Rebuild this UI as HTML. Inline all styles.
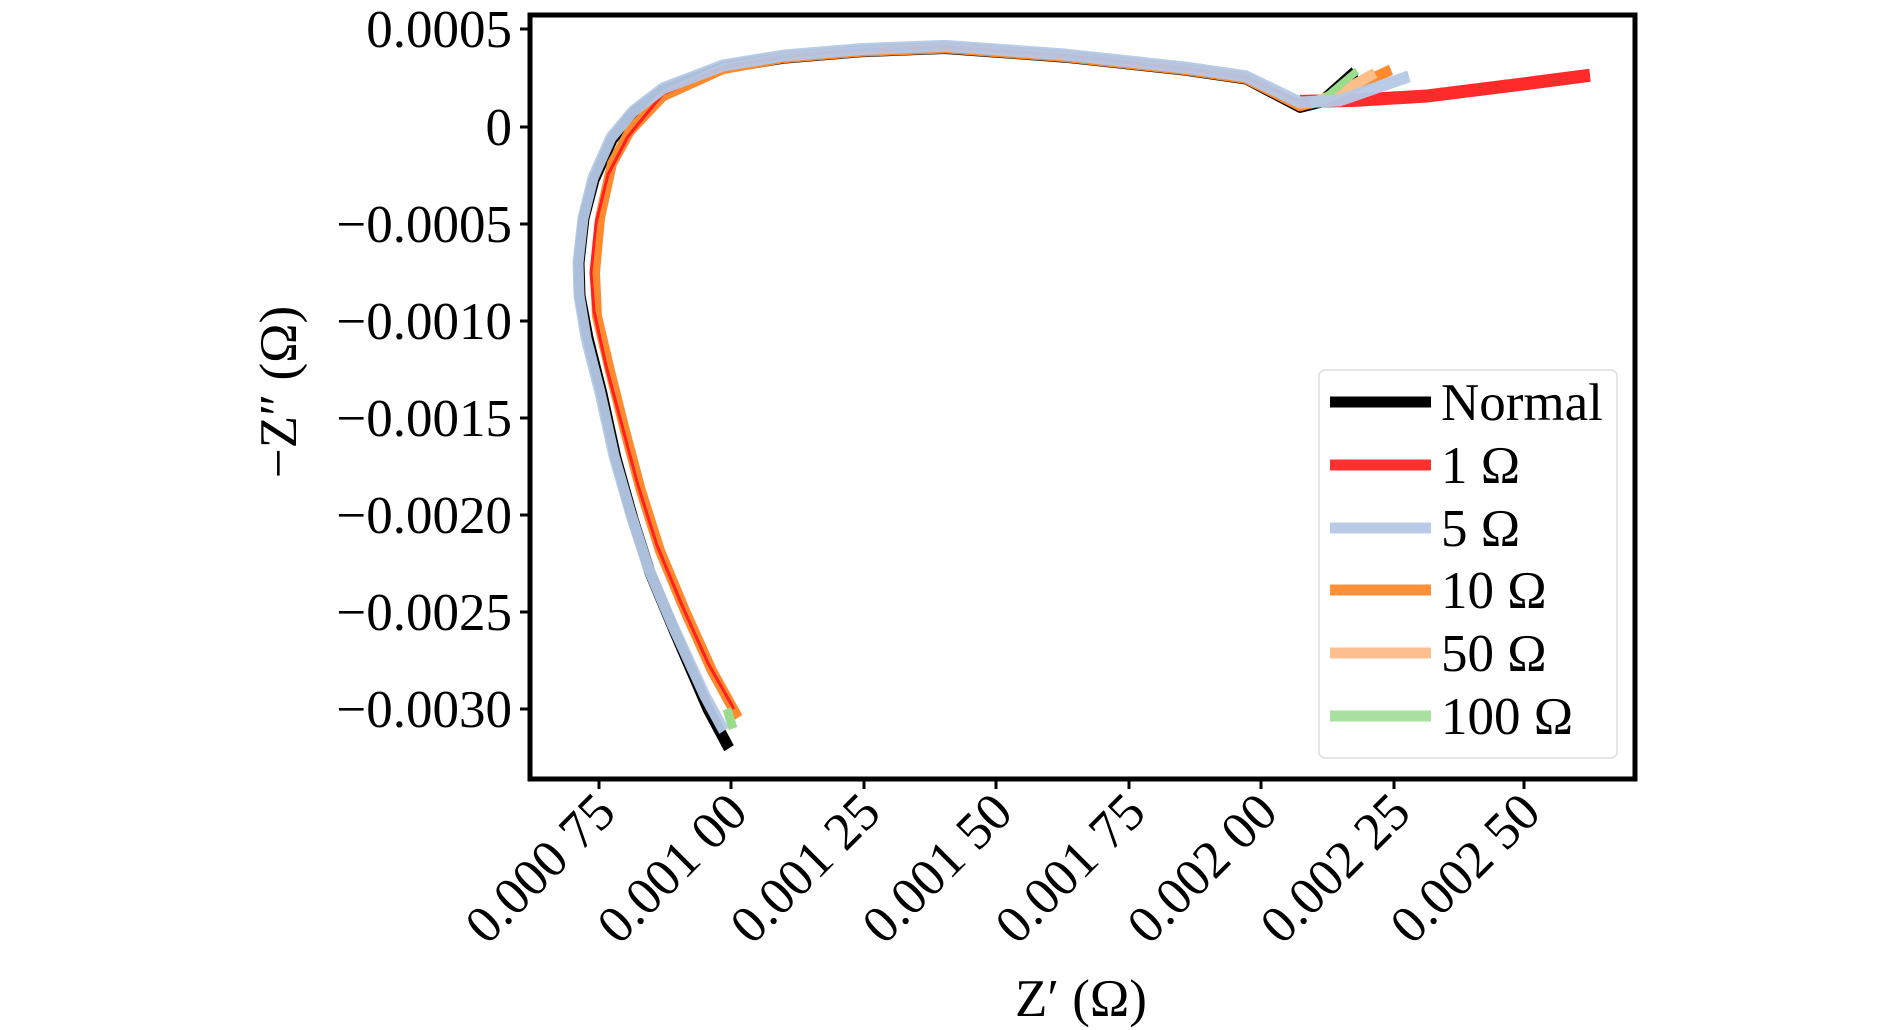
<!DOCTYPE html>
<html><head><meta charset="utf-8"><style>
html,body{margin:0;padding:0;background:#fff;}
svg{display:block;font-family:"Liberation Serif",serif;}
</style></head><body>
<svg width="1890" height="1030" viewBox="0 0 1890 1030" xmlns="http://www.w3.org/2000/svg">
<rect width="1890" height="1030" fill="#fff"/>
<g fill="none" stroke-linecap="butt" stroke-linejoin="round" transform="scale(1,1.0907)">
<path d="M729,686 L708,650 L675,580 L650,525 L633,476 L616,420 L602,361 L588,310 L580,271 L579,241 L584,200 L594,165 L612,128 L633,104 L663,83 L723,62 L783,53 L861,47 L945,44 L1065,52 L1186,64 L1246,72 L1300,98 L1322,93 L1355,66" stroke="#000" stroke-width="11"/>
<path d="M738,658 L712,615 L685,560 L660,505 L641,450 L625,395 L610,340 L597,290 L595,250 L600,200 L612,150 L630,120 L663,88 L723,63 L783,53 L861,47 L945,44 L1065,52 L1186,64 L1246,72 L1300,97 L1330,90 L1391,64" stroke="#ff8a2e" stroke-width="10"/>
<path d="M734,650 L708,608 L682,555 L657,500 L638,445 L622,390 L606,335 L594,285 L591,250 L596,205 L608,160 L628,125 L663,86 L723,62 L783,52 L861,46 L945,43 L1065,51 L1186,63 L1246,71 L1300,93 L1355,92 L1427,88 L1523,77 L1590,69" stroke="#ff2020" stroke-width="3"/>
<path d="M1300,93 L1355,92 L1427,88 L1523,77 L1590,69" stroke="#ff2a2a" stroke-width="12"/>
<path d="M1310,95 L1340,85 L1375,67" stroke="#fcbf8a" stroke-width="10"/>
<path d="M733,668 L727,650" stroke="#98dc8c" stroke-width="9"/>
<path d="M1322,92 L1357,65" stroke="#98dc8c" stroke-width="7"/>
<path d="M724,670 L705,638 L672,572 L648,520 L631,472 L614,418 L600,360 L586,310 L579,271 L578,241 L583,200 L593,163 L611,126 L633,102 L663,81 L723,60 L783,51 L861,45 L945,42 L1065,50 L1186,62 L1246,70 L1300,94 L1340,92 L1409,70" stroke="#b4c8e6" stroke-width="11" opacity="0.95"/>
</g>
<rect x="530" y="15" width="1105" height="764" fill="none" stroke="#000" stroke-width="5"/>
<g stroke="#000" stroke-width="3">
<line x1="520" y1="29" x2="528" y2="29"/><line x1="520" y1="127" x2="528" y2="127"/>
<line x1="520" y1="224" x2="528" y2="224"/><line x1="520" y1="321" x2="528" y2="321"/>
<line x1="520" y1="418" x2="528" y2="418"/><line x1="520" y1="515" x2="528" y2="515"/>
<line x1="520" y1="612" x2="528" y2="612"/><line x1="520" y1="709" x2="528" y2="709"/>
<line x1="599" y1="781" x2="599" y2="789"/><line x1="731" y1="781" x2="731" y2="789"/>
<line x1="864" y1="781" x2="864" y2="789"/><line x1="996" y1="781" x2="996" y2="789"/>
<line x1="1129" y1="781" x2="1129" y2="789"/><line x1="1261" y1="781" x2="1261" y2="789"/>
<line x1="1394" y1="781" x2="1394" y2="789"/><line x1="1524" y1="781" x2="1524" y2="789"/>
</g>
<g font-size="53" text-anchor="end" fill="#000">
<text x="512" y="47">0.0005</text>
<text x="512" y="145">0</text>
<text x="512" y="242">−0.0005</text>
<text x="512" y="339">−0.0010</text>
<text x="512" y="436">−0.0015</text>
<text x="512" y="533">−0.0020</text>
<text x="512" y="630">−0.0025</text>
<text x="512" y="727">−0.0030</text>
</g>
<g font-size="53" text-anchor="end" fill="#000">
<text transform="translate(618,815) rotate(-45)">0.000 75</text>
<text transform="translate(750,815) rotate(-45)">0.001 00</text>
<text transform="translate(883,815) rotate(-45)">0.001 25</text>
<text transform="translate(1015,815) rotate(-45)">0.001 50</text>
<text transform="translate(1148,815) rotate(-45)">0.001 75</text>
<text transform="translate(1280,815) rotate(-45)">0.002 00</text>
<text transform="translate(1413,815) rotate(-45)">0.002 25</text>
<text transform="translate(1543,815) rotate(-45)">0.002 50</text>
</g>
<text x="1081" y="1016" font-size="53" text-anchor="middle">Z′ (Ω)</text>
<text transform="translate(296,392) rotate(-90)" font-size="53" text-anchor="middle">−Z″ (Ω)</text>
<rect x="1319" y="370" width="298" height="388" rx="6" fill="#fff" stroke="#ddd" stroke-width="1.5"/>
<g stroke-width="11">
<line x1="1330" y1="402" x2="1431" y2="402" stroke="#000"/>
<line x1="1330" y1="465" x2="1431" y2="465" stroke="#ff3030"/>
<line x1="1330" y1="528" x2="1431" y2="528" stroke="#b8cce8"/>
<line x1="1330" y1="590" x2="1431" y2="590" stroke="#ff9038"/>
<line x1="1330" y1="653" x2="1431" y2="653" stroke="#fcc090"/>
<line x1="1330" y1="716" x2="1431" y2="716" stroke="#a8e0a0"/>
</g>
<g font-size="53">
<text x="1441" y="420">Normal</text>
<text x="1441" y="483">1 Ω</text>
<text x="1441" y="546">5 Ω</text>
<text x="1441" y="608">10 Ω</text>
<text x="1441" y="671">50 Ω</text>
<text x="1441" y="734">100 Ω</text>
</g>
</svg>
</body></html>
